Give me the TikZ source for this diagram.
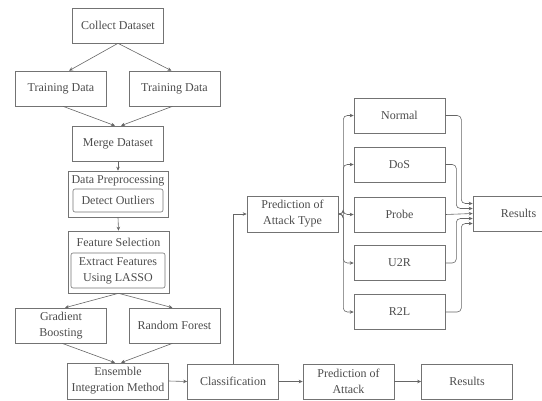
\documentclass[tikz,border=0pt]{standalone}
\usepackage{fontspec}
\setmainfont{Liberation Serif}
\usetikzlibrary{arrows.meta}

\tikzset{
    box/.style={draw=black!55, line width=0.6pt, text=black!70, minimum width=91pt, minimum height=35pt,
        inner sep=1pt, align=center, font=\fontsize{12}{16}\selectfont},
    inbox/.style={box, rounded corners=2pt},
    grouplabel/.style={text=black!70, inner sep=0pt, font=\fontsize{12}{16}\selectfont},
    link/.style={draw=black!60, line width=0.6pt, -{Stealth[length=4pt,width=3.5pt]}},
}

\begin{document}
\begin{tikzpicture}[x=1pt, y=-1pt]
    \useasboundingbox (0,0) rectangle (542,400);

    % Data collection and merging
    \node[box] (collect) at (118,25.5) {Collect Dataset};
    \node[box] (trainA) at (61,88.5) {Training Data};
    \node[box] (trainB) at (174.5,88.5) {Training Data};
    \node[box] (merge) at (118,143.5) {Merge Dataset};

    % Preprocessing group
    \node[box, minimum width=100pt, minimum height=46pt] (prep) at (118,194) {};
    \node[grouplabel] (preplabel) at (118,180.5) {Data Preprocessing};
    \node[inbox, minimum width=90pt, minimum height=23pt] (outlier) at (118,200.5) {Detect Outliers};

    % Feature selection group
    \node[box, minimum width=101pt, minimum height=62pt] (feat) at (118.5,262) {};
    \node[grouplabel] (featlabel) at (118.5,242) {Feature Selection};
    \node[inbox, minimum width=94pt, minimum height=35pt] (lasso) at (118,270.5) {Extract Features\\Using LASSO};

    % Models
    \node[box] (gboost) at (61,325.5) {Gradient\\Boosting};
    \node[box] (rforest) at (174.5,325.5) {Random Forest};
    \node[box, minimum width=101pt, minimum height=36pt] (ensemble) at (118,381) {Ensemble\\Integration Method};

    % Bottom row
    \node[box] (classify) at (233,381.5) {Classification};
    \node[box] (predatk) at (348.5,381.5) {Prediction of\\Attack};
    \node[box] (resultA) at (467,381.5) {Results};

    % Attack type branch
    \node[box, minimum height=36pt] (predtype) at (292.5,214) {Prediction of\\Attack Type};
    \node[box] (normal) at (399.5,115.5) {Normal};
    \node[box] (dos) at (399.5,164.5) {DoS};
    \node[box] (probe) at (399.5,214.5) {Probe};
    \node[box] (utr) at (399.5,263) {U2R};
    \node[box] (rtl) at (399.5,312) {R2L};
    \node[box] (resultB) at (518.5,213.5) {Results};

    % Left column links
    \draw[link] (collect.south) -- ([xshift=8pt]trainA.north);
    \draw[link] (collect.south) -- ([xshift=-3pt]trainB.north);
    \draw[link] ([xshift=2pt]trainA.south) -- ([xshift=-3pt]merge.north);
    \draw[link] ([xshift=-2pt]trainB.south) -- ([xshift=3pt]merge.north);
    \draw[link] (merge.south) -- (prep.north);
    \draw[link] (prep.south) -- (feat.north);
    \draw[link] (feat.south) -- ([xshift=4pt]gboost.north);
    \draw[link] (feat.south) -- ([xshift=-2pt]rforest.north);
    \draw[link] ([xshift=1pt]gboost.south) -- ([xshift=-3pt]ensemble.north);
    \draw[link] ([xshift=-2pt]rforest.south) -- ([xshift=3pt]ensemble.north);
    \draw[link] (ensemble.east) -- (classify.west);

    % Bottom row links
    \draw[link] (classify.east) -- (predatk.west);
    \draw[link] (predatk.east) -- (resultA.west);
    \draw[link] (classify.north) |- (predtype.west);

    % Fan out to attack classes
    \foreach \cls in {normal,dos,probe,utr,rtl} {
        \draw[link, rounded corners=4pt] (predtype.east) -- ++(5,0) |- (\cls.west);
    }

    % Fan in to results
    \draw[link, rounded corners=4pt] (normal.east) -- ++(16,0) |- ([yshift=10pt]resultB.west);
    \draw[link, rounded corners=4pt] (dos.east) -- ++(11,0) |- ([yshift=5pt]resultB.west);
    \draw[link] (probe.east) -- ([yshift=0pt]resultB.west);
    \draw[link, rounded corners=4pt] (utr.east) -- ++(11,0) |- ([yshift=-5pt]resultB.west);
    \draw[link, rounded corners=4pt] (rtl.east) -- ++(16,0) |- ([yshift=-10pt]resultB.west);

\end{tikzpicture}
\end{document}
